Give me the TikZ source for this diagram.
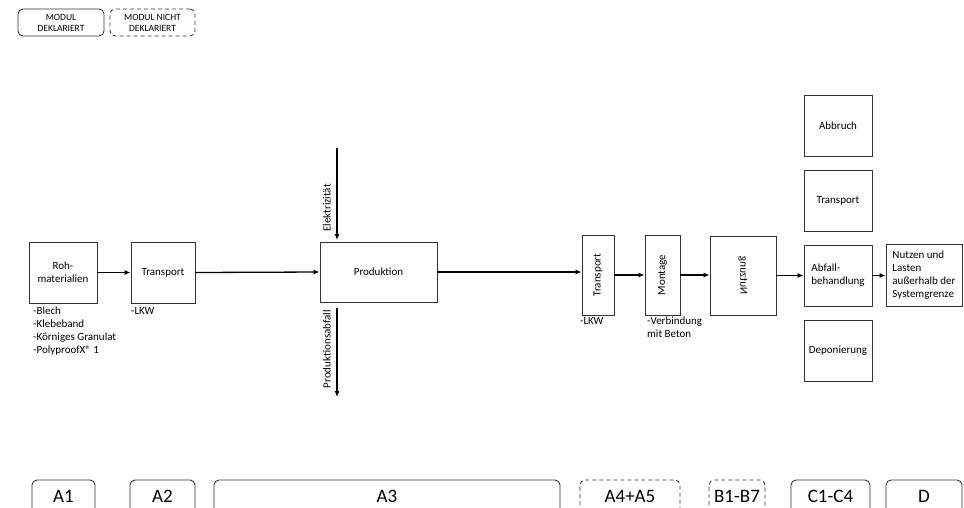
\documentclass[tikz,border=0pt]{standalone}
\usepackage{fontspec}
\setmainfont{Carlito}
\usetikzlibrary{arrows.meta}
\begin{document}
\begin{tikzpicture}[x=1pt,y=-1pt,
  box/.style={draw=black!80,line width=0.9pt,align=center,font=\fontsize{11}{13}\selectfont},
  arr/.style={line width=1.3pt,-{Latex[length=6pt,width=5pt]}},
  note/.style={anchor=north west,align=left,inner sep=0pt,font=\fontsize{11}{13}\selectfont},
  legend/.style={draw=black!80,line width=0.9pt,rounded corners=5pt,align=center,font=\fontsize{9.5}{11}\selectfont},
  phase/.style={draw=black!80,line width=0.9pt,rounded corners=5pt},
  ptext/.style={font=\fontsize{19}{21}\selectfont},
  side/.style={font=\fontsize{11}{13}\selectfont,inner sep=0pt},
  dsh/.style={dash pattern=on 4pt off 3pt}]
\useasboundingbox (0,0) rectangle (964,507);
\clip (0,0) rectangle (964,507);

% legend
\node[legend,minimum width=86pt,minimum height=27pt] (leg1) at (61,22.5) {MODUL\\DEKLARIERT};
\node[legend,dsh,minimum width=85pt,minimum height=27pt] (leg2) at (152.5,22.5) {MODUL NICHT\\DEKLARIERT};

% main nodes
\node[box,minimum width=68pt,minimum height=61pt] (roh) at (63,272.5) {Roh-\\materialien};
\node[box,minimum width=64pt,minimum height=61pt] (tr1) at (163,272.5) {Transport};
\node[box,minimum width=117pt,minimum height=60pt] (prod) at (378.5,272) {Produktion};
\node[box,minimum width=32pt,minimum height=80pt] (tr2) at (598,275) {\rotatebox{90}{Transport}};
\node[box,minimum width=35pt,minimum height=80pt] (mont) at (662.5,275) {\rotatebox{90}{Montage}};
\node[box,minimum width=66pt,minimum height=79pt] (nutz) at (743,275.5) {\reflectbox{\rotatebox{90}{Nutzung}}};
\node[box,minimum width=68pt,minimum height=61pt] (abb) at (838,125.5) {Abbruch};
\node[box,minimum width=68pt,minimum height=61pt] (tr3) at (838,200.5) {Transport};
\node[box,minimum width=68pt,minimum height=61pt,align=left] (abf) at (838,275.5) {Abfall-\\behandlung};
\node[box,minimum width=68pt,minimum height=61pt] (dep) at (838,350.5) {Deponierung};
\node[box,minimum width=76pt,minimum height=62pt,align=left,inner sep=2pt] (nul) at (924,275) {Nutzen und\\Lasten\\außerhalb der\\Systemgrenze};

% arrows
\draw[arr] (roh.east) -- (tr1.west);
\draw[arr] (tr1.east) -- (prod.west);
\draw[arr] (prod.east) -- (prod.east -| tr2.west);
\draw[arr] (tr2.east) -- (mont.west);
\draw[arr] (mont.east) -- (mont.east -| nutz.west);
\draw[arr] (nutz.east) -- (nutz.east -| abf.west);
\draw[arr] (abf.east) -- (abf.east -| nul.west);

\coordinate (elA) at (337,148);
\coordinate (elB) at (337,240);
\draw[arr] (elA) -- (elB);
\node[side,anchor=south east] (elt) at (331,232) {\rotatebox{90}{Elektrizität}};
\coordinate (paA) at (337,308);
\coordinate (paB) at (337,397);
\draw[arr] (paA) -- (paB);
\node[side,anchor=north east] (pat) at (331,310) {\rotatebox{90}{Produktionsabfall}};

% notes
\node[note] (n1) at (33,307) {-Blech\\-Klebeband\\-Körniges Granulat\\-PolyproofX® 1};
\node[note] (n2) at (131,307) {-LKW};
\node[note] (n3) at (580,317) {-LKW};
\node[note] (n4) at (647,317) {-Verbindung\\mit Beton};

% phases
\draw[phase] (32,512) |- (95,480) -- (95,512);
\node[ptext] (pA1) at (63.5,496) {A1};
\draw[phase] (130,512) |- (195,480) -- (195,512);
\node[ptext] (pA2) at (162.5,496) {A2};
\draw[phase] (214,512) |- (560,480) -- (560,512);
\node[ptext] (pA3) at (387,496) {A3};
\draw[phase,dsh] (580,512) |- (680,480) -- (680,512);
\node[ptext] (pA4) at (630,496) {A4+A5};
\draw[phase,dsh] (709,512) |- (765,480) -- (765,512);
\node[ptext] (pB) at (737,496) {B1-B7};
\draw[phase] (791,512) |- (870,480) -- (870,512);
\node[ptext] (pC) at (830.5,496) {C1-C4};
\draw[phase] (886,512) |- (962,480) -- (962,512);
\node[ptext] (pD) at (924,496) {D};
\end{tikzpicture}
\end{document}
